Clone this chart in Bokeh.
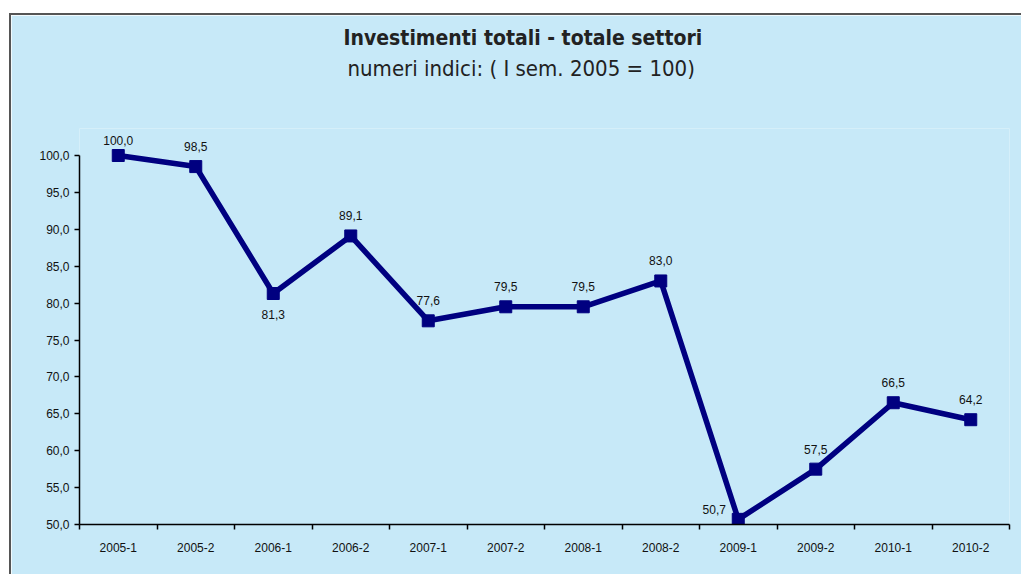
from bokeh.plotting import figure
from bokeh.models import ColumnDataSource, Range1d, FixedTicker, Title, Spacer
from bokeh.layouts import column, row
from bokeh.core.properties import value
from bokeh.embed import file_html
from bokeh.resources import INLINE

# ---- data ----
periods = ["2005-1", "2005-2", "2006-1", "2006-2", "2007-1", "2007-2",
           "2008-1", "2008-2", "2009-1", "2009-2", "2010-1", "2010-2"]
values = [100.0, 98.5, 81.3, 89.1, 77.6, 79.5, 79.5, 83.0, 50.7, 57.5, 66.5, 64.2]
y_ticks = [50, 55, 60, 65, 70, 75, 80, 85, 90, 95, 100]
label_place = ["top", "top", "bottom", "top", "top", "top",
               "top", "top", "left", "top", "top", "top"]
title_text = "Investimenti totali - totale settori"
subtitle_text = "numeri indici: ( I sem. 2005 = 100)"

BG = "#C7E9F8"
NAVY = "#000080"
EDGE = "#555555"
W, H = 1021, 574


def fmt(v):
    return f"{v:.1f}".replace(".", ",")


xs = [i + 0.5 for i in range(len(periods))]
off = {"top": (0, -20), "bottom": (0, 21), "left": (-24, -10)}
dx = [off[k][0] for k in label_place]
dy = [off[k][1] for k in label_place]
dy[0] = -15

src = ColumnDataSource(dict(x=xs, y=values, lbl=[fmt(v) for v in values], dx=dx, dy=dy))

PW, PH = W - 11, H - 15
p = figure(width=PW, height=PH, output_backend="svg", toolbar_location=None,
           title=None,
           x_range=Range1d(0, len(periods)), y_range=Range1d(50, 103.66),
           min_border_left=68, min_border_right=12, min_border_bottom=50,
           min_border_top=113)
p.background_fill_color = BG
p.border_fill_color = BG
p.outline_line_color = None
p.grid.visible = False

TF = "DejaVu Sans Condensed"
# spacer between subtitle and plot area
p.add_layout(Title(text=" ", text_font=TF, text_font_size="21px", standoff=19), "above")
p.add_layout(Title(text=subtitle_text, align="left", offset=268,
                   text_font=TF, text_font_size="22px",
                   text_font_style="normal", text_color="#222222", standoff=6), "above")
p.add_layout(Title(text=title_text, align="left", offset=264,
                   text_font=TF, text_font_size="21px",
                   text_font_style="bold", text_color="#222222", standoff=1), "above")

# x axis: labels at centres, ticks at boundaries
xa = p.xaxis[0]
xa.ticker = FixedTicker(ticks=xs, minor_ticks=list(range(len(periods) + 1)))
xa.major_label_overrides = {x: lab for x, lab in zip(xs, periods)}
xa.major_tick_out = 0
xa.major_tick_in = 0
xa.minor_tick_out = 5
xa.minor_tick_in = 0
xa.minor_tick_line_color = "black"
xa.minor_tick_line_width = 1.5
xa.axis_line_color = "black"
xa.axis_line_width = 1.5
xa.major_label_standoff = 13
xa.major_label_text_font = "Liberation Sans"
xa.major_label_text_font_size = "12px"
xa.major_label_text_color = "#111111"

ya = p.yaxis[0]
ya.ticker = FixedTicker(ticks=y_ticks)
ya.major_label_overrides = {t: fmt(t) for t in y_ticks}
ya.bounds = (50, 100)
ya.major_tick_out = 5
ya.major_tick_in = 0
ya.minor_tick_out = 0
ya.minor_tick_in = 0
ya.major_tick_line_width = 1.5
ya.axis_line_width = 1.5
ya.major_label_standoff = 5
ya.major_label_text_font = "Liberation Sans"
ya.major_label_text_font_size = "12px"
ya.major_label_text_color = "#111111"

p.line("x", "y", source=src, line_color=NAVY, line_width=5.5)
p.scatter("x", "y", source=src, marker="square", size=12, color=NAVY)
p.text("x", "y", text="lbl", source=src, x_offset="dx", y_offset="dy",
       text_align="center", text_baseline="middle",
       text_font=value("Liberation Sans"), text_font_size="12px", text_color="#111111")

top_gap = Spacer(width=W, height=13)
hline = row(Spacer(width=9, height=2),
            Spacer(width=W - 9, height=2, styles={"background-color": EDGE}))
body = row(Spacer(width=9, height=PH),
           Spacer(width=2, height=PH, styles={"background-color": EDGE}),
           p)
layout = column(top_gap, hline, body)

open("out.html", "w").write(file_html(layout, INLINE))
